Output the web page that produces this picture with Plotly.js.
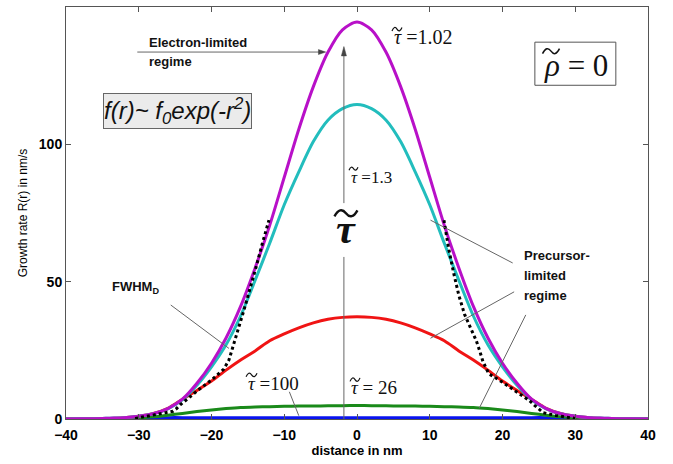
<!DOCTYPE html>
<html>
<head>
<meta charset="utf-8">
<script src="https://cdn.plot.ly/plotly-3.0.1.min.js"></script>
<style>html,body{margin:0;padding:0;background:#fff;}#chart{width:673px;height:464px;}</style>
</head>
<body>
<div id="chart"></div>
<script>
// ---- data ----
const distance = [-40,-38,-36,-34,-32,-30,-28,-26,-24,-22,-20,-18,-16,-14,-12,-10,-8,-6,-4,-2,0,2,4,6,8,10,12,14,16,18,20,22,24,26,28,30,32,34,36,38,40];
const rateTau102 = [0,0.05,0.1,0.3,0.5,1.0,1.9,3.8,7.2,13,20.3,29.5,41,55,70.5,88,105.5,121,133.5,141.7,144.5,141.7,133.5,121,105.5,88,70.5,55,41,29.5,20.3,13,7.2,3.8,1.9,1.0,0.5,0.3,0.1,0.05,0];
const rateTau13 = [0,0.05,0.1,0.3,0.5,1.0,1.9,3.7,7.0,12.3,19,27,37.5,50.5,64,78,90,101,108.8,113,114.5,113,108.8,101,90,78,64,50.5,37.5,27,19,12.3,7.0,3.7,1.9,1.0,0.5,0.3,0.1,0.05,0];
const rateTau26 = [0,0.02,0.1,0.2,0.5,1.0,2.0,3.9,7.2,10.4,13.8,17.8,21.5,24.8,28.5,31,33.2,35,36.3,37,37.2,37,36.3,35,33.2,31,28.5,24.8,21.5,17.8,13.8,10.4,7.2,3.9,2.0,1.0,0.5,0.2,0.1,0.02,0];
const rateTau100 = [0,0.02,0.05,0.1,0.2,0.4,0.8,1.4,2.0,2.7,3.3,3.8,4.2,4.4,4.5,4.6,4.7,4.75,4.8,4.85,4.9,4.85,4.8,4.75,4.7,4.6,4.5,4.4,4.2,3.8,3.3,2.7,2.0,1.4,0.8,0.4,0.2,0.1,0.05,0.02,0];
const rateTauLarge = [0,0,0.05,0.1,0.2,0.35,0.45,0.5,0.5,0.5,0.5,0.5,0.5,0.5,0.5,0.5,0.5,0.5,0.5,0.5,0.5,0.5,0.5,0.5,0.5,0.5,0.5,0.5,0.5,0.5,0.5,0.5,0.5,0.5,0.45,0.35,0.2,0.1,0.05,0,0];
const fwhmX = [-30.5,-28.7,-26.4,-25.3,-24.8,-24.3,-23.2,-21.8,-20,-18.3,-17.6,-17.1,-16.3,-15.5,-14.6,-13.8,-13.0,-12.1,null,11.95,12.6,13.3,14.0,14.8,15.6,16.4,16.9,17.3,18.1,20,22.3,23.6,24.4,24.8,25.2,25.6,27.3,30];
const fwhmY = [0.2,1.1,2.1,2.8,3.8,5.2,7.5,10.6,14.2,18.2,21.5,26.3,33,40,48,56,64,72.4,null,72.4,62,53,45,38,33,28.5,24.5,21,16.5,13.4,9.2,6.9,5.0,4.0,3.0,2.3,1.3,0.2];
const xTicks = [-40,-30,-20,-10,0,10,20,30,40];
const yTicks = [0,50,100,150];

const serif = "Liberation Serif, Times New Roman, serif";
const sans = "Liberation Sans, Arial, sans-serif";
function line(x, y, color, w) {
  return {x: x, y: y, type: 'scatter', mode: 'lines', line: {color: color, width: w || 3, shape: 'spline', smoothing: 0.8}, hoverinfo: 'skip', showlegend: false};
}
const traces = [
  line(distance, rateTauLarge, '#0a14f0', 3),
  line(distance, rateTau100, '#1a8a1a', 3),
  line(distance, rateTau26, '#f01414', 3),
  line(distance, rateTau13, '#22bdbd', 3),
  line(distance, rateTau102, '#b810c8', 3),
  {x: fwhmX, y: fwhmY, type: 'scatter', mode: 'lines', connectgaps: false,
   line: {color: '#000', width: 3, dash: '3px,3px'}, hoverinfo: 'skip', showlegend: false}
];

const gray = '#666';
function seg(x0, y0, x1, y1) {
  return {type: 'line', xref: 'x', yref: 'y', x0: x0, y0: y0, x1: x1, y1: y1, line: {color: gray, width: 1}};
}
function head(path) {
  return {type: 'path', xref: 'x', yref: 'y', path: path, fillcolor: '#444', line: {color: '#444', width: 0.5}};
}
// a tilde accent drawn as a small wave, sized in pixels from an anchor point
function tilde(x, y, w, a, lw) {
  const p = 'M 0,0 Q ' + (w * 0.25) + ',' + (a * 1.7) + ' ' + (w * 0.5) + ',' + (a * 0.5) +
            ' T ' + w + ',' + a;
  return {type: 'path', xref: 'x', yref: 'y', xsizemode: 'pixel', ysizemode: 'pixel',
    xanchor: x, yanchor: y, path: p, fillcolor: 'rgba(0,0,0,0)', line: {color: '#111', width: lw || 1.2}};
}
function txt(x, y, text, size, opts) {
  return Object.assign({x: x, y: y, xref: 'x', yref: 'y', text: text, showarrow: false,
    font: {family: serif, size: size, color: '#111'}}, opts || {});
}
function boldSans(x, y, text, anchor) {
  return txt(x, y, text, 13, {xanchor: anchor || 'center', font: {family: sans, size: 13, color: '#111', weight: 'bold'}});
}
function tauText(x, y, rest, size, bold) {
  return txt(x, y, '<i>\u03C4</i>' + rest, size, {xanchor: 'left', font: {family: serif, size: size, color: '#111', weight: bold ? 'bold' : 'normal'}});
}
const annotations = [
  boldSans(-28.85, 137.2, 'Electron-limited', 'left'),
  boldSans(-28.85, 130.0, 'regime', 'left'),
  txt(-24.7, 112.1, 'f(r)~ f<sub>0</sub>exp(-r<sup>2</sup>)', 24,
    {font: {family: sans, size: 24, color: '#111', style: 'italic'}, bgcolor: '#ebebeb', bordercolor: '#666', borderwidth: 1, borderpad: 0}),
  txt(30.15, 128.6, '<i>\u03C1</i> = 0', 31),
  boldSans(-30.5, 47.7, 'FWHM<sub>D</sub>'),
  boldSans(22.66, 59.7, 'Precursor-', 'left'),
  boldSans(22.66, 52.4, 'limited', 'left'),
  boldSans(22.66, 45.1, 'regime', 'left'),
  tauText(4.8, 139.1, ' =1.02', 20),
  tauText(-1.1, 88.1, ' =1.3', 17),
  tauText(-15.25, 13.1, ' =100', 19),
  tauText(-1.1, 11.3, ' = 26', 19),
  tauText(-3.1, 69.0, '', 42, true)
];

const layout = {
  width: 673, height: 464,
  margin: {l: 66, r: 25, t: 7, b: 45},
  paper_bgcolor: '#fff', plot_bgcolor: '#fff',
  showlegend: false,
  xaxis: {range: [-40, 40], tickvals: xTicks, ticks: 'inside', ticklen: 5, tickcolor: '#555',
    showline: true, linecolor: '#555', linewidth: 1, mirror: 'ticks', showgrid: false, zeroline: false,
    ticklabelstandoff: 3,
    tickfont: {family: sans, size: 14, color: '#000', weight: 'bold'},
    title: {text: 'distance in nm', standoff: 1, font: {family: sans, size: 13, color: '#000', weight: 'bold'}}},
  yaxis: {range: [0, 150], tickvals: yTicks, ticks: 'inside', ticklen: 5, tickcolor: '#555',
    showline: true, linecolor: '#555', linewidth: 1, mirror: 'ticks', showgrid: false, zeroline: false,
    tickfont: {family: sans, size: 14, color: '#000', weight: 'bold'},
    title: {text: 'Growth rate R(r) in nm/s', standoff: 8, font: {family: sans, size: 12, color: '#000'}}},
  shapes: [
    {type: 'rect', xref: 'x', yref: 'y', x0: 24.45, x1: 35.58, y0: 121.5, y1: 137.2, line: {color: '#555', width: 1}},
    seg(-30.2, 133.6, -4.6, 133.6),
    head('M -4.3,133.6 L -5.3,134.5 L -5.3,132.7 Z'),
    seg(-1.8, 0, -1.8, 59),
    seg(-1.8, 78.6, -1.8, 133),
    head('M -1.8,135.6 L -2.15,132.2 L -1.45,132.2 Z'),
    seg(-9.3, 9.9, -8.0, 1.2),
    seg(-25.6, 41.5, -17.6, 25.7),
    seg(10.1, 72.4, 21.4, 56.8),
    seg(10.1, 29.4, 21.6, 46.3),
    seg(16.8, 3.9, 23.2, 37.9),
    tilde(4.81, 141.3, 10, 3.5),
    tilde(25.5, 133.0, 17, 5, 1.5),
    tilde(-1.1, 90.6, 9, 3),
    tilde(-3.1, 73.8, 23, 6, 2.4),
    tilde(-15.25, 15.4, 11, 3.5),
    tilde(-0.96, 13.7, 10, 3.5)
  ],
  annotations: annotations
};
Plotly.newPlot('chart', traces, layout, {staticPlot: true, displayModeBar: false});
</script>
</body>
</html>
